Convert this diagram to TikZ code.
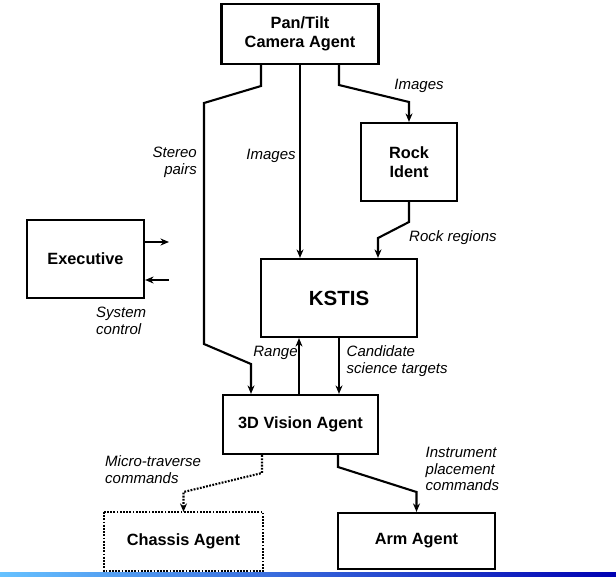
\documentclass[tikz,border=0pt]{standalone}
\usepackage{fontspec}
\setmainfont{Liberation Sans}
\usetikzlibrary{arrows.meta,calc}
\begin{document}
\begin{tikzpicture}[x=1pt,y=-1pt,
  box/.style={draw=black,line width=2.2pt,fill=white,inner sep=0pt,align=center,font=\fontsize{16.3}{18.5}\selectfont\bfseries},
  conn/.style={line width=2.1pt,-{Stealth[length=8.5pt,width=7pt]}},
  lbl/.style={inner sep=0pt,font=\fontsize{15}{16.8}\selectfont\itshape}]
\useasboundingbox (0,0) rectangle (616,576);
\shade[left color=blue!40!cyan!60!white,right color=blue!70!black] (0,572.5) rectangle (616,576);
% nodes
\node[box,minimum width=157pt,minimum height=60pt] (pt) at (300,34) {Pan/Tilt\\Camera Agent};
\node[box,minimum width=96pt,minimum height=78pt] (rock) at (409,162) {Rock\\Ident};
\node[box,minimum width=156pt,minimum height=78pt,font=\fontsize{20.5}{22}\selectfont\bfseries] (ks) at (339,298) {KSTIS};
\node[box,minimum width=117pt,minimum height=78pt] (ex) at (85.5,259) {Executive};
\node[box,minimum width=155pt,minimum height=59pt] (vis) at (300.5,424.5) {3D Vision Agent};
\node[box,draw=none,minimum width=157pt,minimum height=57pt] (ch) at (183.5,541.5) {Chassis Agent};
\draw[line width=2pt,dash pattern=on 1.8pt off 1.4pt] (ch.north west) rectangle (ch.south east);
\node[box,minimum width=157pt,minimum height=56pt] (arm) at (416.5,541) {Arm Agent};
% helper coordinates
\coordinate (s0) at (261,0);
\coordinate (s1) at (261,86);
\coordinate (s2) at (204,103);
\coordinate (s3) at (204,344);
\coordinate (s4) at (251,364);
\coordinate (i0) at (339,0);
\coordinate (i1) at (339,85);
\coordinate (i2) at (409,102);
\coordinate (r1) at (409,222);
\coordinate (r2) at (378,238);
\coordinate (d0) at (262,0);
\coordinate (d1) at (262,473);
\coordinate (d2) at (183.5,492);
\coordinate (a0) at (338,0);
\coordinate (a1) at (338,467);
\coordinate (a2) at (416.5,492);
\coordinate (eo) at (169,242);
\coordinate (ei) at (169,280);
\coordinate (rg) at (299,0);
% connectors
\draw[conn] (pt.south -| s0) -- (s1) -- (s2) -- (s3) -- (s4) -- (s4 |- vis.north);
\draw[conn] (pt.south) -- (pt.south |- ks.north);
\draw[conn] (pt.south -| i0) -- (i1) -- (i2) -- (rock.north);
\draw[conn] (rock.south) -- (r1) -- (r2) -- (r2 |- ks.north);
\draw[conn] (vis.north -| rg) -- (rg |- ks.south);
\draw[conn] (ks.south) -- (ks.south |- vis.north);
\draw[conn,dash pattern=on 1.8pt off 1.4pt] (vis.south -| d0) -- (d1) -- (d2) -- (ch.north);
\draw[conn] (vis.south -| a0) -- (a1) -- (a2) -- (arm.north);
\draw[conn] (ex.east |- eo) -- (eo);
\draw[conn] (ei) -- (ex.east |- ei);
% labels
\node[lbl] (l1) at (419,86) {Images};
\node[lbl] (l2) at (271,156) {Images};
\node[lbl,align=right,anchor=east] (l3) at (197,162.5) {Stereo\\pairs};
\node[lbl] (l4) at (453,238) {Rock regions};
\node[lbl,align=left,anchor=west] (l5) at (96,320.5) {System\\control};
\node[lbl] (l6) at (275.5,353) {Range};
\node[lbl,align=left,anchor=west] (l7) at (346.5,361.5) {Candidate\\science targets};
\node[lbl,align=left,anchor=west] (l8) at (105,469.5) {Micro-traverse\\commands};
\node[lbl,align=left,anchor=west] (l9) at (425.5,469) {Instrument\\placement\\commands};
\end{tikzpicture}
\end{document}
